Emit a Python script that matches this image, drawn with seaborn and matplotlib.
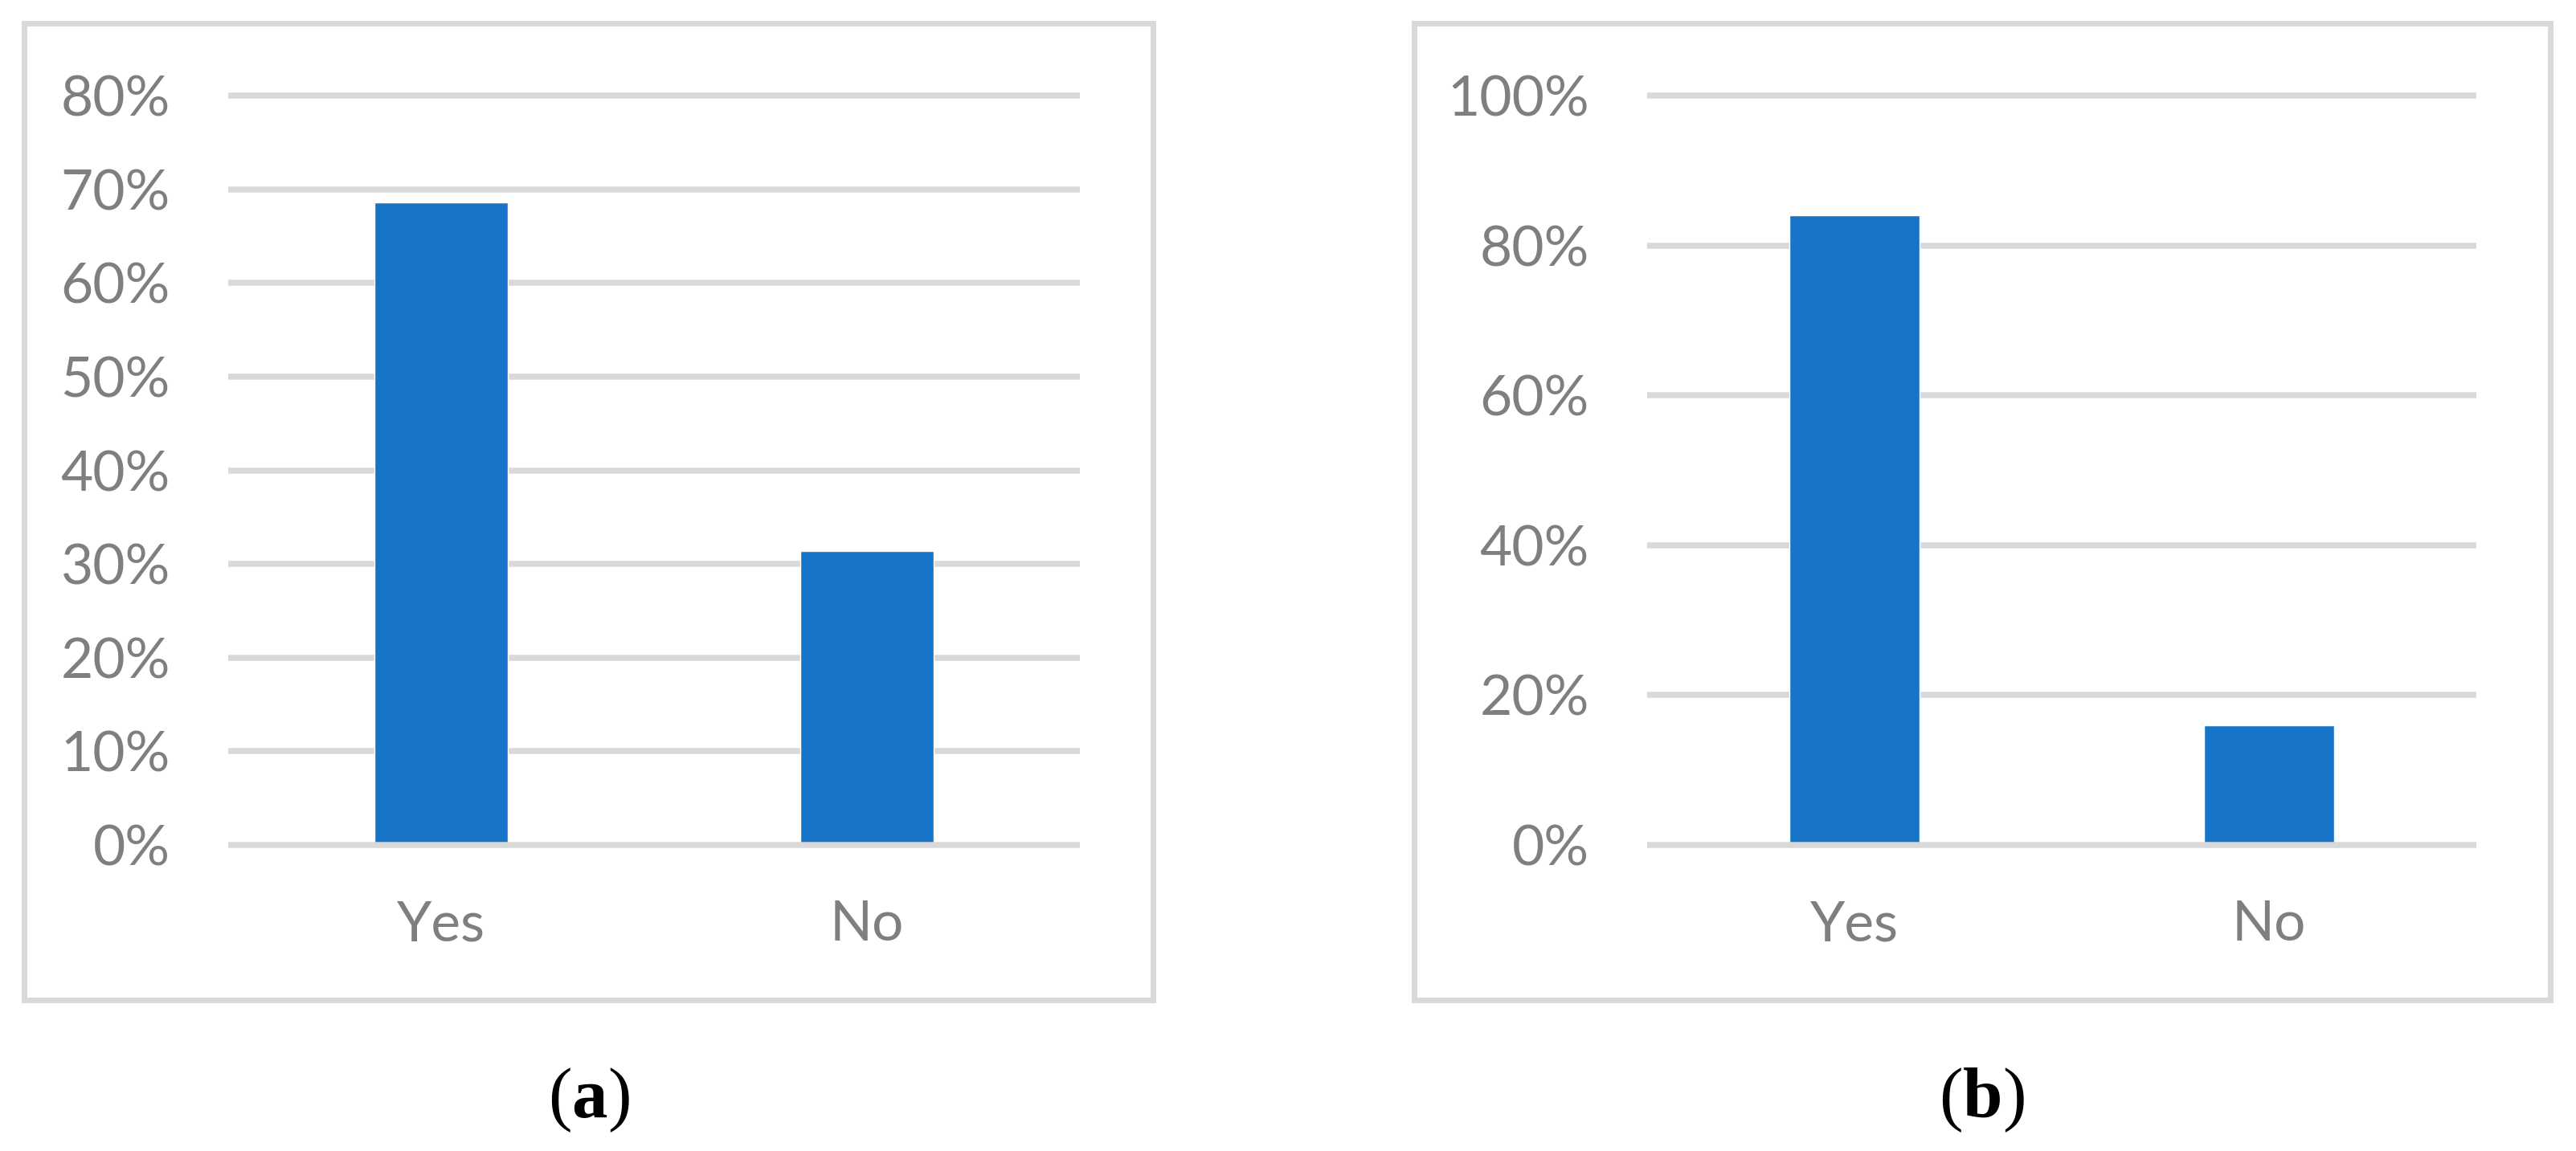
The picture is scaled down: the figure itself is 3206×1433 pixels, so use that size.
import matplotlib
matplotlib.use("Agg")
import matplotlib.pyplot as plt
import seaborn as sns
import pandas as pd
from matplotlib.patches import Rectangle

sns.set_theme(style="white")
plt.rcParams["font.family"] = ["Lato", "DejaVu Sans"]
plt.rcParams["mathtext.fontset"] = "custom"
plt.rcParams["mathtext.rm"] = "Liberation Serif"
plt.rcParams["mathtext.bf"] = "Liberation Serif:bold"

# data
categories = ["Yes", "No"]
values_a = [68.6, 31.4]
values_b = [84.0, 16.0]
ticks_a = [0, 10, 20, 30, 40, 50, 60, 70, 80]
ticks_b = [0, 20, 40, 60, 80, 100]
panel_labels = [r"$(\mathbf{a})$", r"$(\mathbf{b})$"]

BAR_COLOR = "#1874C8"
GRID_COLOR = "#D9D9D9"
TEXT_COLOR = "#7F7F7F"
W, H = 3206, 1433


def bar_panel(fig, rect, box, values, ticks, label):
    ax = fig.add_axes(rect)
    df = pd.DataFrame({"answer": categories, "share": values})
    sns.barplot(data=df, x="answer", y="share", color=BAR_COLOR,
                saturation=1, width=0.315, ax=ax, zorder=2)

    # horizontal gridlines, the zero line sits on top of the bars
    for t in ticks:
        ax.axhline(t, color=GRID_COLOR, lw=5.4, clip_on=False,
                   solid_capstyle="butt", zorder=3 if t == 0 else 0)

    ax.set_xlim(-0.5, 1.5)
    ax.set_ylim(ticks[0], ticks[-1])
    ax.set_yticks(ticks)
    ax.set_yticklabels([f"{t}%" for t in ticks])
    ax.set_xlabel("")
    ax.set_ylabel("")
    ax.tick_params(axis="y", length=0, pad=52, labelsize=50, labelcolor=TEXT_COLOR)
    ax.tick_params(axis="x", length=0, pad=49, labelsize=50, labelcolor=TEXT_COLOR)
    for s in ax.spines.values():
        s.set_visible(False)
    ax.grid(False)

    # light grey frame round the chart
    fig.add_artist(Rectangle((box[0], box[1]), box[2], box[3], transform=fig.transFigure,
                             fill=False, ec=GRID_COLOR, lw=5.0))
    fig.text(box[0] + box[2] / 2, 0.044, label, ha="center", va="center",
             fontsize=64, color="black")
    return ax


fig = plt.figure(figsize=(W / 100, H / 100), dpi=100)
fig.patch.set_facecolor("white")

bar_panel(fig, [284 / W, 1 - 1052 / H, 1060 / W, 933 / H],
          [30.5 / W, 1 - 1245 / H, 1404 / W, 1216.5 / H],
          values_a, ticks_a, panel_labels[0])
bar_panel(fig, [2050 / W, 1 - 1052 / H, 1032 / W, 933 / H],
          [1759.5 / W, 1 - 1245 / H, 1414 / W, 1216.5 / H],
          values_b, ticks_b, panel_labels[1])

fig.savefig("out.png", dpi=100, facecolor="white")
